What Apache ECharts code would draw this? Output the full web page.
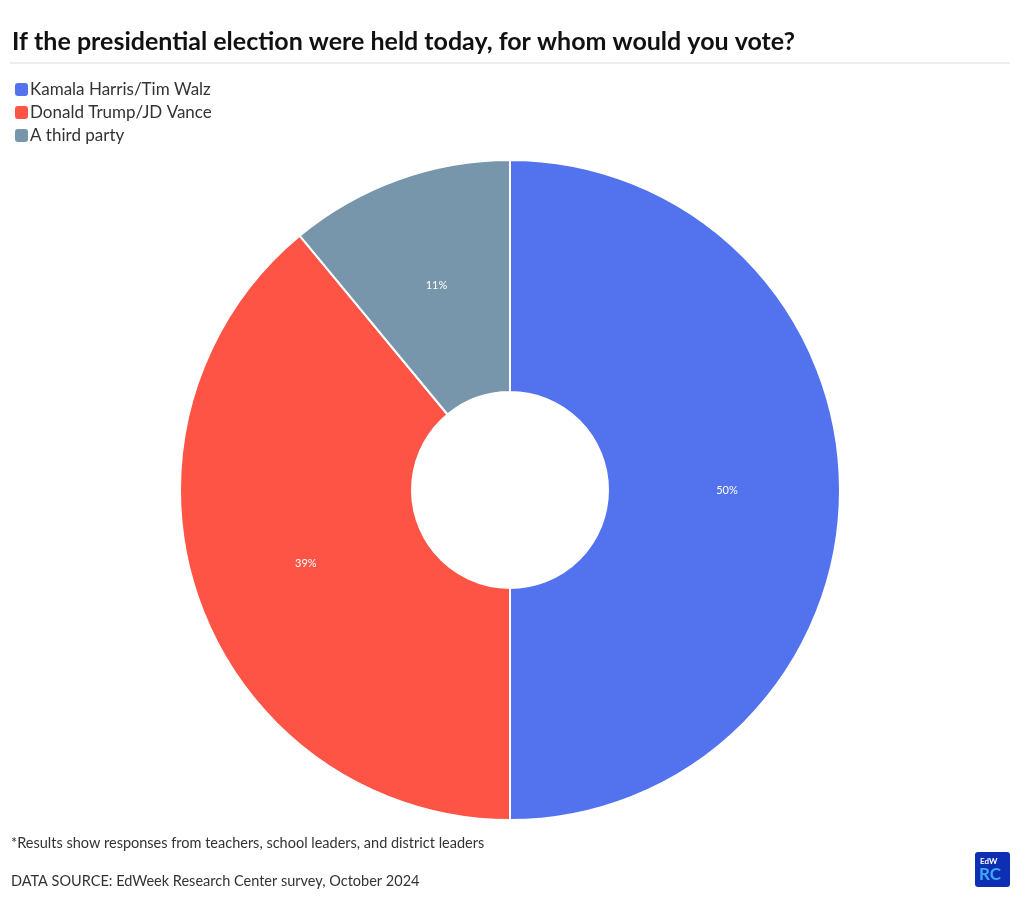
<!DOCTYPE html>
<html><head><meta charset="utf-8">
<script src="https://cdn.jsdelivr.net/npm/echarts@6/dist/echarts.min.js"></script>
<style>html,body{margin:0;padding:0;background:#fff}#c{width:1020px;height:901px}</style>
</head><body><div id="c"></div>
<script>
const categories = ["Kamala Harris/Tim Walz", "Donald Trump/JD Vance", "A third party"];
const values = [50, 39, 11];
const colors = ["#5373ee", "#fd5445", "#7896ab"];
const titleText = "If the presidential election were held today, for whom would you vote?";
const noteText = "*Results show responses from teachers, school leaders, and district leaders";
const sourceText = "DATA SOURCE: EdWeek Research Center survey, October 2024";
const FONT = "Lato";

const chart = echarts.init(document.getElementById('c'), null, {renderer: 'canvas'});
chart.setOption({
  animation: false,
  color: colors,
  title: {
    text: titleText, left: 7, top: 24,
    textStyle: {fontFamily: FONT, fontWeight: 'bold', fontSize: 25, color: '#111'}
  },
  legend: {
    orient: 'vertical', left: 10, top: 76, itemWidth: 13, itemHeight: 13, itemGap: 6,
    icon: 'path://M3,0 L10,0 Q13,0 13,3 L13,10 Q13,13 10,13 L3,13 Q0,13 0,10 L0,3 Q0,0 3,0 Z',
    itemStyle: {borderWidth: 0},
    textStyle: {fontFamily: FONT, fontSize: 17, color: '#333', padding: [0,0,0,-3]},
    data: categories
  },
  graphic: [
    {type: 'line', shape: {x1: 10, y1: 63, x2: 1010, y2: 63}, style: {stroke: '#ddd', lineWidth: 1}},
    {type: 'text', left: 11, top: 836, style: {text: noteText, fontFamily: FONT, fontSize: 14.5, fill: '#333'}},
    {type: 'text', left: 11, top: 874, style: {text: sourceText, fontFamily: FONT, fontSize: 14.5, fill: '#333'}},
    {type: 'rect', shape: {x: 975, y: 852, width: 35, height: 35, r: 3}, style: {fill: '#0c2fb3'}},
    {type: 'text', x: 980, y: 857, style: {text: 'EdW', fontFamily: FONT, fontSize: 8, fontWeight: 'bold', fill: '#fff'}},
    {type: 'text', x: 979, y: 866, style: {text: 'RC', fontFamily: FONT, fontSize: 17, fontWeight: 'bold', fill: '#41a8f5'}}
  ],
  series: [{
    type: 'pie',
    center: [510, 490],
    radius: [98, 330],
    startAngle: 90,
    clockwise: true,
    avoidLabelOverlap: false,
    itemStyle: {borderColor: '#fff', borderWidth: 2},
    label: {
      show: true, position: 'inside', formatter: '{d}%',
      fontFamily: FONT, fontSize: 11, color: '#fff'
    },
    labelLine: {show: false},
    emphasis: {disabled: true},
    data: categories.map((n, i) => ({name: n, value: values[i]}))
  }]
});
</script></body></html>
